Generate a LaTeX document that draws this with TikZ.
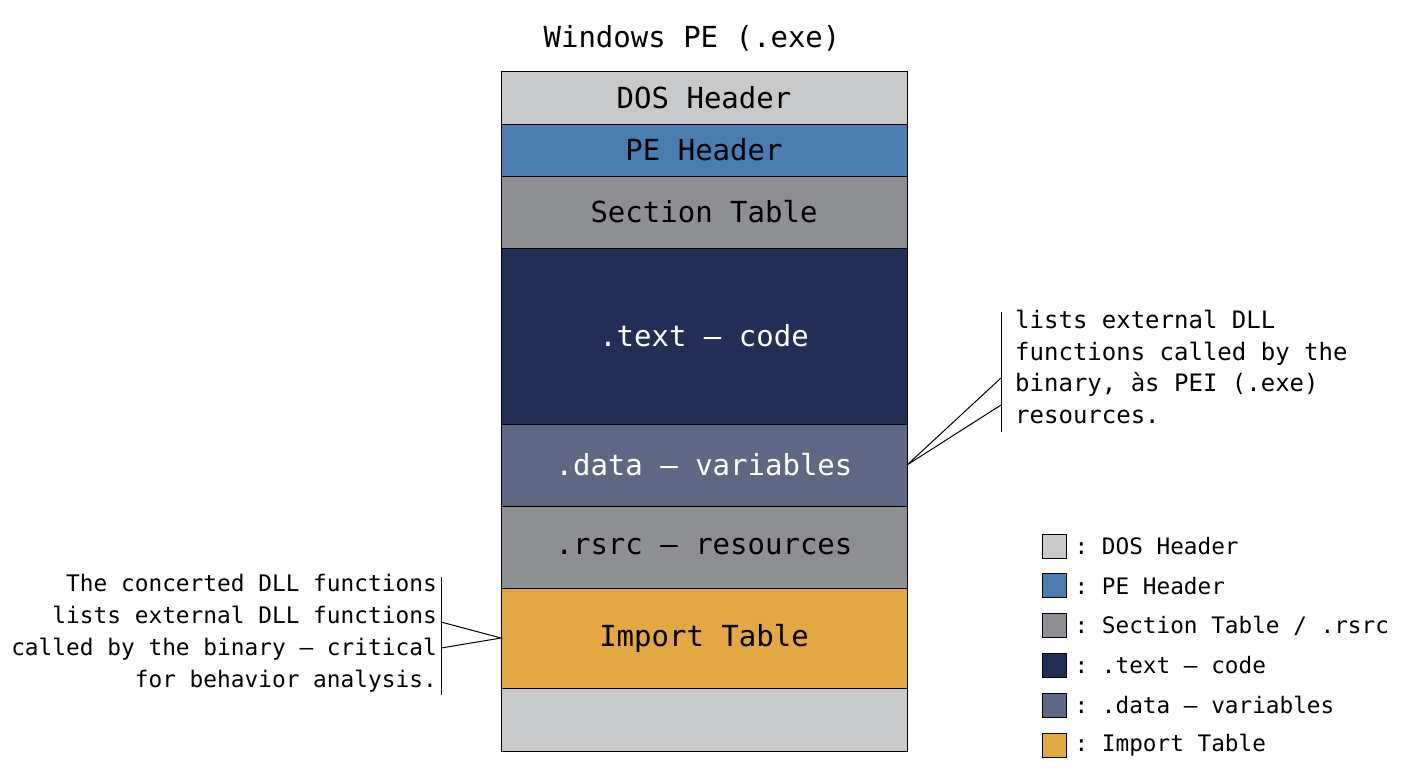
\documentclass[tikz,border=0pt]{standalone}
\usepackage{fontspec}
\setmonofont{DejaVu Sans Mono}
\usetikzlibrary{positioning}
\definecolor{dosgray}{HTML}{C8C9CB}
\definecolor{peblue}{HTML}{4A7DB0}
\definecolor{secgray}{HTML}{8E8F92}
\definecolor{textnavy}{HTML}{222E55}
\definecolor{dataslate}{HTML}{5E6885}
\definecolor{importgold}{HTML}{E3A843}
\tikzset{
  seg/.style = {draw=black, line width=1pt, outer sep=0pt, minimum width=406pt, inner sep=0pt, font=\ttfamily\fontsize{29}{31}\selectfont},
  key/.style = {draw=black, line width=0.8pt, minimum size=24pt, inner sep=0pt},
  keytxt/.style = {right=8pt of #1, inner sep=0pt, font=\ttfamily\fontsize{22.7}{24}\selectfont},
  note/.style = {inner sep=0pt, font=\ttfamily\fontsize{24}{31.5}\selectfont},
  lead/.style = {line width=1pt}
}
\begin{document}
\begin{tikzpicture}[x=1pt, y=-1pt]
    \useasboundingbox (0,0) rectangle (1408,768);

    \node[font=\ttfamily\fontsize{29}{31}\selectfont] (title) at (692,38) {Windows PE (.exe)};

    % file layout
    \node[seg, fill=dosgray, minimum height=52pt, anchor=north west] (dos) at (501,72) {DOS Header};
    \node[seg, fill=peblue, minimum height=52pt, below=0pt of dos] (pe) {PE Header};
    \node[seg, fill=secgray, minimum height=72pt, below=0pt of pe] (sec) {Section Table};
    \node[seg, fill=textnavy, text=white, minimum height=176pt, below=0pt of sec] (text) {.text — code};
    \node[seg, fill=dataslate, text=white, minimum height=82pt, below=0pt of text] (data) {.data — variables};
    \node[seg, fill=secgray, minimum height=82pt, below=0pt of data] (rsrc) {.rsrc — resources};
    \node[seg, fill=importgold, minimum height=100pt, below=0pt of rsrc] (imp) {Import Table};
    \node[seg, fill=dosgray, minimum height=63pt, below=0pt of imp] (pad) {};

    % right note
    \coordinate (rtop) at (1001,312);
    \coordinate (rbot) at (1001,432);
    \coordinate (ra) at (1001,378);
    \coordinate (rb) at (1001,405);
    \draw[lead] (rtop) -- (rbot);
    \draw[lead] (ra) -- (data.east) -- (rb);
    \node[note, anchor=north west, align=left] (rnote) at (1015,310) {lists external DLL\\functions called by the\\binary, às PEI (.exe)\\resources.};

    % left note
    \coordinate (ltop) at (441,577);
    \coordinate (lbot) at (441,695);
    \coordinate (la) at (441,622);
    \coordinate (lb) at (441,648);
    \draw[lead] (ltop) -- (lbot);
    \draw[lead] (la) -- (imp.west) -- (lb);
    \node[note, font=\ttfamily\fontsize{22.8}{32}\selectfont, anchor=north east, align=right] (lnote) at (437,574) {The concerted DLL functions\\lists external DLL functions\\called by the binary — critical\\for behavior analysis.};

    % legend
    \node[key, fill=dosgray] (k1) at (1054,546) {};
    \node[keytxt=k1] {: DOS Header};
    \node[key, fill=peblue, below=15pt of k1] (k2) {};
    \node[keytxt=k2] {: PE Header};
    \node[key, fill=secgray, below=15pt of k2] (k3) {};
    \node[keytxt=k3] {: Section Table / .rsrc};
    \node[key, fill=textnavy, below=15pt of k3] (k4) {};
    \node[keytxt=k4] {: .text — code};
    \node[key, fill=dataslate, below=15pt of k4] (k5) {};
    \node[keytxt=k5] {: .data — variables};
    \node[key, fill=importgold, below=15pt of k5] (k6) {};
    \node[keytxt=k6] {: Import Table};
\end{tikzpicture}
\end{document}
